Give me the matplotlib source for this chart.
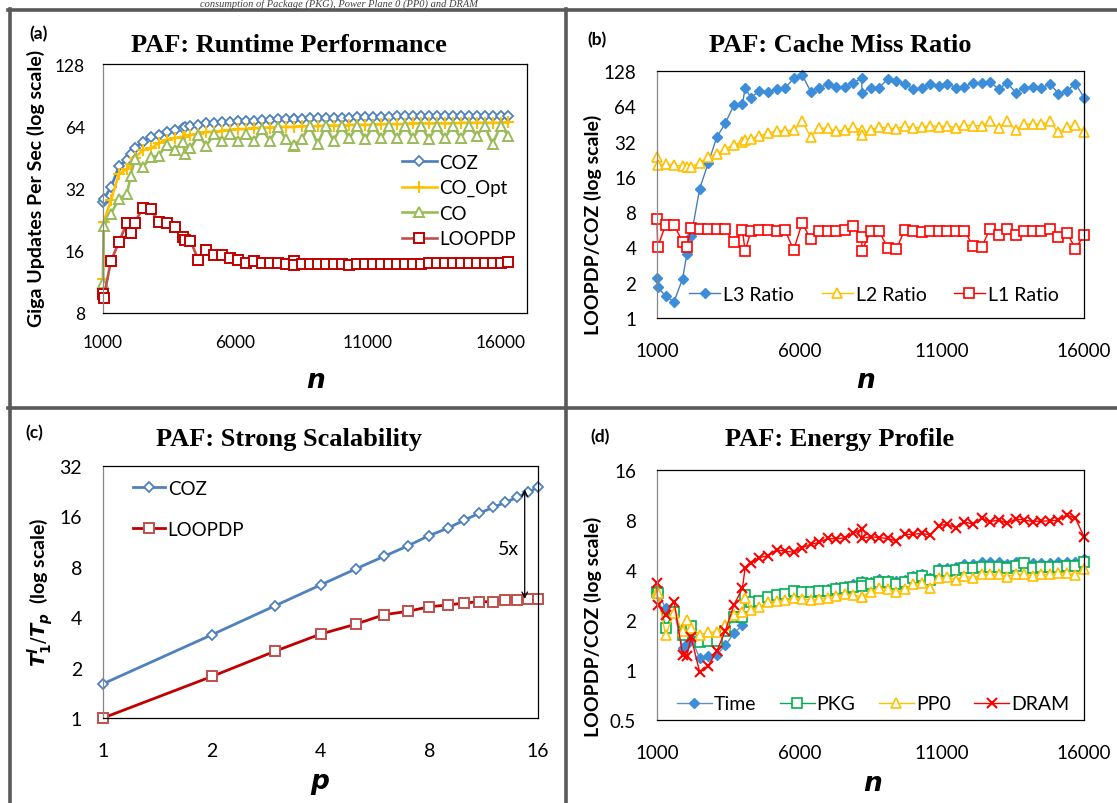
import numpy as np
import matplotlib
matplotlib.use('Agg')
import matplotlib.pyplot as plt
from matplotlib.lines import Line2D
from matplotlib.ticker import NullLocator

plt.rcParams['font.family'] = ['Lato', 'DejaVu Sans']

W, H = 1117, 804

# ---- (a) runtime performance ----
n_a = [1000, 1024, 1300, 1600, 1900, 2048, 2200, 2500, 2800, 3100,
       3400, 3700, 4000, 4096, 4300, 4600, 4900, 5200, 5500, 5800,
       6100, 6400, 6700, 7000, 7300, 7600, 7900, 8192, 8200, 8500,
       8800, 9100, 9400, 9700, 10000, 10300, 10600, 10900, 11200, 11500,
       11800, 12100, 12400, 12700, 13000, 13300, 13600, 13900, 14200, 14500,
       14800, 15100, 15400, 15700, 16000, 16300]
coz_a = [27.4, 28.5, 32.4, 41, 44, 47, 50, 54, 56.5, 58,
         60, 61.6, 63, 63.5, 64.5, 65, 66, 66.5, 67, 67,
         67.5, 68, 68, 68.5, 68.5, 69, 69, 69, 69, 69.5,
         70, 70, 70, 70.5, 70.5, 70.5, 71, 71, 71, 71,
         71, 71.5, 71.5, 71.5, 71.5, 71.5, 71.5, 71.5, 72, 72,
         72, 72, 72, 72, 72, 72]
co_opt_a = [11.7, 22, 28, 37.6, 39.7, 42, 45, 49, 50, 53,
            55, 56, 57, 57, 58, 59, 60, 60, 61, 61.5,
            62, 62, 62.5, 63, 63, 63.5, 63.5, 63.5, 63.5, 64,
            64, 64, 64.5, 64.5, 64.5, 65, 65, 65, 65, 65.5,
            65.5, 65.5, 65.5, 66, 66, 66, 66, 66, 66, 66.5,
            66.5, 66.5, 66.5, 66.5, 66.5, 66.8]
co_a = [11.2, 21, 24.1, 28.5, 30.1, 36.9, 44.4, 40.5, 45.3, 46.1,
        52, 49.3, 53.9, 47, 50, 58, 51.5, 58.7, 54.5, 58.7,
        54.5, 58.7, 54.5, 62, 54.5, 63.2, 55.5, 51.5, 52, 55.5,
        64.4, 52.5, 64.4, 54.5, 64.4, 56, 64.4, 55.5, 64.4, 56,
        64.4, 56, 64.4, 56, 64.4, 55.5, 64.4, 56, 64.4, 56,
        64.4, 57.6, 64.4, 52.5, 64.4, 57.6]
loopdp_a = [9.9, 9.45, 14.3, 17.6, 21.8, 19.5, 21.9, 25.8, 25.5, 22.1,
            21.8, 20.8, 18.6, 18.0, 17.9, 14.4, 16.1, 15.2, 15.2, 14.8,
            14.5, 14.0, 14.2, 13.9, 13.9, 13.9, 13.8, 14.2, 13.7, 13.8,
            13.8, 13.8, 13.8, 13.8, 13.8, 13.6, 13.8, 13.8, 13.8, 13.8,
            13.8, 13.8, 13.8, 13.8, 13.8, 14.0, 13.9, 13.9, 14.0, 14.0,
            14.0, 14.0, 14.0, 14.0, 14.0, 14.1]

# ---- (b) cache miss ratio and (d) energy profile ----
n_bd = [1000, 1024, 1300, 1600, 1900, 2048, 2200, 2500, 2800, 3100,
        3400, 3700, 4000, 4096, 4300, 4600, 4900, 5200, 5500, 5800,
        6100, 6400, 6700, 7000, 7300, 7600, 7900, 8192, 8200, 8500,
        8800, 9100, 9400, 9700, 10000, 10300, 10600, 10900, 11200, 11500,
        11800, 12100, 12400, 12700, 13000, 13300, 13600, 13900, 14200, 14500,
        14800, 15100, 15400, 15700, 16000]
l3 = [2.18, 1.85, 1.53, 1.38, 2.17, 3.5, 5.0, 12.7, 21, 34.8,
      46, 65.4, 66.7, 91.2, 76, 86.6, 85.5, 89.4, 91.2, 110.9,
      118.4, 85.5, 92.4, 98.6, 93.6, 93.6, 101.9, 110.9, 83.8, 92.4,
      92.4, 108.8, 105.3, 99.9, 89.4, 91.2, 99.9, 95.5, 99.9, 92.4,
      93.6, 101.9, 101.9, 103.9, 89.4, 101.9, 83.8, 92.4, 93.6, 91.2,
      99.9, 82.2, 86.6, 99.9, 76]
l2 = [23.8, 20, 20.6, 20, 19.8, 19.6, 19.6, 20.9, 23.8, 25.1,
      27.7, 30.1, 31.5, 33, 33.7, 35.9, 37.6, 39.6, 39.6, 40.1,
      47.5, 35.2, 41.7, 41.4, 39.1, 40.1, 42.3, 40.1, 36.6, 40.1,
      42.8, 41.7, 41, 43.7, 41.7, 42.3, 43.7, 42.8, 43.7, 41.7,
      44.3, 43.7, 43.7, 47.5, 41.7, 48.2, 40.1, 45.1, 45.1, 45.1,
      47.5, 38.3, 42.3, 44.3, 38.3]
l1 = [7.05, 4.05, 6.19, 6.19, 4.47, 4.0, 5.91, 5.69, 5.79, 5.79,
      5.69, 4.41, 5.6, 3.75, 5.5, 5.6, 5.6, 5.55, 5.6, 3.8,
      6.48, 4.68, 5.5, 5.53, 5.5, 5.6, 6.07, 4.93, 3.73, 5.5,
      5.53, 3.98, 3.85, 5.6, 5.5, 5.45, 5.55, 5.55, 5.55, 5.55,
      5.55, 4.13, 4.0, 5.79, 5.09, 5.79, 5.09, 5.55, 5.55, 5.55,
      5.69, 4.93, 5.35, 3.9, 5.09]

time_d = [3.0, 2.95, 2.35, 2.26, 1.35, 1.43, 1.55, 1.18, 1.21, 1.23,
          1.41, 1.66, 1.87, 2.7, 2.55, 2.62, 2.76, 2.83, 2.86, 2.99,
          3.0, 3.0, 3.05, 3.08, 3.15, 3.22, 3.28, 3.42, 3.32, 3.4,
          3.55, 3.5, 3.45, 3.5, 3.7, 3.8, 3.6, 4.1, 4.1, 4.15,
          4.35, 4.35, 4.45, 4.45, 4.45, 4.35, 4.5, 4.45, 4.4, 4.4,
          4.4, 4.45, 4.5, 4.45, 4.65]
pkg_d = [2.96, 2.9, 1.8, 2.25, 1.62, 1.75, 1.85, 1.48, 1.49, 1.5,
         1.72, 2.09, 2.09, 2.83, 2.55, 2.62, 2.76, 2.83, 2.86, 2.99,
         2.93, 2.93, 2.99, 2.99, 3.07, 3.13, 3.17, 3.33, 3.2, 3.28,
         3.4, 3.37, 3.28, 3.37, 3.6, 3.7, 3.48, 3.94, 3.94, 4.0,
         4.13, 4.13, 4.19, 4.19, 4.19, 4.13, 4.25, 4.39, 4.13, 4.19,
         4.19, 4.19, 4.25, 4.25, 4.45]
pp0_d = [2.95, 2.9, 1.62, 2.2, 1.72, 2.0, 1.8, 1.62, 1.69, 1.69,
         1.86, 2.14, 2.22, 2.73, 2.30, 2.41, 2.55, 2.60, 2.64, 2.73,
         2.68, 2.64, 2.68, 2.73, 2.80, 2.86, 2.83, 2.76, 2.76, 2.96,
         3.13, 3.07, 2.93, 3.07, 3.28, 3.33, 3.13, 3.56, 3.65, 3.48,
         3.70, 3.56, 3.77, 3.77, 3.77, 3.65, 3.77, 3.77, 3.70, 3.77,
         3.77, 3.83, 3.83, 3.73, 4.06]
dram_d = [3.33, 2.46, 2.14, 2.58, 1.23, 1.22, 1.57, 0.97, 1.06, 1.30,
          1.72, 2.46, 3.10, 4.13, 4.39, 4.75, 4.88, 5.28, 5.2, 5.11,
          5.45, 5.71, 5.87, 6.2, 6.15, 6.26, 6.65, 7.06, 6.2, 6.35,
          6.26, 6.2, 5.98, 6.56, 6.56, 6.65, 6.5, 7.4, 7.53, 7.19,
          7.82, 7.53, 8.19, 7.82, 8.0, 7.64, 8.11, 8.0, 7.82, 7.89,
          7.89, 8.0, 8.57, 8.19, 6.35]

# ---- (c) strong scalability ----
p = [1, 2, 3, 4, 5, 6, 7, 8, 9, 10, 11, 12, 13, 14, 15, 16]
coz_c = [1.6, 3.14, 4.69, 6.23, 7.76, 9.24, 10.7, 12.3, 13.6, 15.2,
         16.7, 18.1, 19.4, 20.8, 22.3, 23.9]
loopdp_c = [1.0, 1.77, 2.51, 3.17, 3.63, 4.14, 4.34, 4.62, 4.73, 4.86,
            4.95, 4.95, 5.07, 5.07, 5.14, 5.14]

n_ticks = [1000, 6000, 11000, 16000]
p_ticks = [1, 2, 4, 8, 16]

fig = plt.figure(figsize=(W / 100, H / 100), dpi=100)


def rect(l, t, r, b):
    return [l / W, 1 - b / H, (r - l) / W, (b - t) / H]


def fx(x):
    return x / W


def fy(y):
    return 1 - y / H


def style(ax, yticks, ylabels, fs=12.5, xpad=15, ypad=14):
    ax.set_yscale('log', base=2)
    ax.set_yticks(yticks)
    ax.set_yticklabels(ylabels)
    ax.yaxis.set_minor_locator(NullLocator())
    ax.tick_params(length=0, labelsize=fs)
    ax.tick_params(axis='x', pad=xpad)
    ax.tick_params(axis='y', pad=ypad)
    for s in ax.spines.values():
        s.set_linewidth(0.9)
        s.set_color('black')
    ax.spines['left'].set_color('#868686')


# panel frames
frame = dict(color='#595959', lw=2.6)
fig.add_artist(Line2D([fx(10), fx(10)], [fy(10), fy(804)], **frame))
fig.add_artist(Line2D([fx(8), fx(1117)], [fy(11), fy(11)], **frame))
fig.add_artist(Line2D([fx(566), fx(566)], [fy(10), fy(804)], **frame))
fig.add_artist(Line2D([fx(8), fx(1117)], [fy(409), fy(409)], **frame))

# caption line of the page above
fig.text(fx(200), fy(6.5), 'consumption of Package (PKG), Power Plane 0 (PP0) and DRAM',
         family='Liberation Serif', style='italic', fontsize=7.5, color='#404040',
         ha='left', va='baseline')

tfont = dict(family='Liberation Serif', weight='bold', fontsize=19, ha='center', va='center')
fig.text(fx(289), fy(45), 'PAF: Runtime Performance', **tfont)
fig.text(fx(840), fy(46), 'PAF: Cache Miss Ratio', **tfont)
fig.text(fx(289), fy(440), 'PAF: Strong Scalability', **tfont)
fig.text(fx(840), fy(440), 'PAF: Energy Profile', **tfont)

pfont = dict(weight='bold', fontsize=12.5, ha='center', va='center')
fig.text(fx(39), fy(34), '(a)', **pfont)
fig.text(fx(597), fy(40), '(b)', **pfont)
fig.text(fx(34), fy(433), '(c)', **pfont)
fig.text(fx(600), fy(437), '(d)', **pfont)

xfont = dict(family='DejaVu Sans', weight='bold', style='italic', fontsize=19,
             ha='center', va='center')
fig.text(fx(316), fy(381), 'n', **xfont)
fig.text(fx(866), fy(381), 'n', **xfont)
fig.text(fx(320), fy(782), 'p', **xfont)
fig.text(fx(873), fy(784), 'n', **xfont)

yfont = dict(weight='bold', fontsize=14, rotation=90, ha='center', va='center')
fig.text(fx(36), fy(188), 'Giga Updates Per Sec (log scale)', **yfont)
fig.text(fx(593), fy(225), 'LOOPDP/COZ (log scale)', **yfont)
fig.text(fx(40), fy(592), r'$\mathbfit{T}_\mathbf{1}^{\mathbfit{l}}/\mathbfit{T}_\mathbfit{p}$  (log scale)',
         **yfont)
fig.text(fx(593), fy(627), 'LOOPDP/COZ (log scale)', **yfont)

# ---------- (a) ----------
ax = fig.add_axes(rect(103, 65, 527, 314))
ax.plot(n_a, coz_a, color='#4A7EBB', lw=1.9, marker='D', ms=4.6, mfc='white',
        mec='#4F81BD', mew=1.3, label='COZ', clip_on=False)
ax.plot(n_a, co_opt_a, color='#FFC000', lw=1.9, marker='+', ms=8, mec='#FFC000',
        mew=1.5, label='CO_Opt', clip_on=False)
ax.plot(n_a, co_a, color='#9BBB59', lw=1.9, marker='^', ms=7, mfc='white',
        mec='#9BBB59', mew=1.4, label='CO', clip_on=False)
ax.plot(n_a, loopdp_a, color='#C0504D', lw=1.9, marker='s', ms=6.8, mfc='white',
        mec='#C00000', mew=1.4, label='LOOPDP', clip_on=False)
ax.set_xlim(1000, 17000)
ax.set_ylim(8, 128)
ax.set_xticks(n_ticks)
ax.set_xticklabels([str(v) for v in n_ticks])
style(ax, [8, 16, 32, 64, 128], ['8', '16', '32', '64', '128'], fs=12.5, xpad=15, ypad=13)
ax.legend(loc='center left', bbox_to_anchor=(0.705, 0.452), frameon=False, fontsize=13.5,
          handlelength=1.85, handletextpad=0.15, labelspacing=0.45, borderpad=0,
          borderaxespad=0)

# ---------- (b) ----------
ax = fig.add_axes(rect(657, 72, 1084, 319))
ax.plot(n_bd, l3, color='#4A7EBB', lw=1.0, marker='D', ms=5, mfc='#3C8DDA',
        mec='#3C8DDA', label='L3 Ratio', clip_on=False)
ax.plot(n_bd, l2, color='#FFC000', lw=1.0, marker='^', ms=7, mfc='white',
        mec='#FFC000', mew=1.2, label='L2 Ratio', clip_on=False)
ax.plot(n_bd, l1, color='#FF0000', lw=1.0, marker='s', ms=6.8, mfc='white',
        mec='#FF0000', mew=1.2, label='L1 Ratio', clip_on=False)
ax.set_xlim(1000, 16000)
ax.set_ylim(1, 128)
ax.set_xticks(n_ticks)
ax.set_xticklabels([str(v) for v in n_ticks])
style(ax, [1, 2, 4, 8, 16, 32, 64, 128], ['1', '2', '4', '8', '16', '32', '64', '128'],
      fs=13.5, xpad=17, ypad=15)
ax.legend(loc='center', bbox_to_anchor=(0.508, 0.097), ncol=3, frameon=False, fontsize=14,
          handlelength=1.6, handletextpad=0.15, columnspacing=1.4, borderpad=0,
          borderaxespad=0)

# ---------- (c) ----------
ax = fig.add_axes(rect(103, 467, 538, 719))
ax.plot(p, coz_c, color='#4F81BD', lw=2.0, marker='D', ms=4.6, mfc='white',
        mec='#4F81BD', mew=1.3, label='COZ', clip_on=False)
ax.plot(p, loopdp_c, color='#C00000', lw=2.0, marker='s', ms=6.5, mfc='white',
        mec='#C0504D', mew=1.4, label='LOOPDP', clip_on=False)
ax.set_xscale('log', base=2)
ax.set_xlim(1, 16)
ax.set_ylim(1, 32)
ax.set_xticks(p_ticks)
ax.set_xticklabels([str(v) for v in p_ticks])
ax.xaxis.set_minor_locator(NullLocator())
style(ax, [1, 2, 4, 8, 16, 32], ['1', '2', '4', '8', '16', '32'], fs=14, xpad=17, ypad=15)
ax.legend(loc='center left', bbox_to_anchor=(0.069, 0.83), frameon=False, fontsize=13.5,
          handlelength=1.7, handletextpad=0.15, labelspacing=1.3, borderpad=0,
          borderaxespad=0)
ax.annotate('', xy=(p[-2] * 0.98, coz_c[-1] * 0.97), xytext=(p[-2] * 0.98, loopdp_c[-1]),
            arrowprops=dict(arrowstyle='<->', color='black', lw=0.9,
                            shrinkA=0, shrinkB=0))
ax.text(p[-4] * 1.02, np.sqrt(coz_c[-1] * loopdp_c[-1]) * 0.93, '5x', fontsize=14,
        ha='center', va='center')

# ---------- (d) ----------
ax = fig.add_axes(rect(657, 471, 1084, 721))
ax.plot(n_bd, time_d, color='#5B8FD0', lw=1.0, marker='D', ms=5, mfc='#3C8DDA',
        mec='#3C8DDA', label='Time', clip_on=False)
ax.plot(n_bd, pkg_d, color='#00B050', lw=1.0, marker='s', ms=6.8, mfc='white',
        mec='#00B050', mew=1.2, label='PKG', clip_on=False)
ax.plot(n_bd, pp0_d, color='#FFC000', lw=1.0, marker='^', ms=7, mfc='white',
        mec='#FFC000', mew=1.2, label='PP0', clip_on=False)
ax.plot(n_bd, dram_d, color='#FF0000', lw=1.0, marker='x', ms=7, mec='#FF0000',
        mew=1.5, label='DRAM', clip_on=False)
ax.set_xlim(1000, 16000)
ax.set_ylim(0.5, 16)
ax.set_xticks(n_ticks)
ax.set_xticklabels([str(v) for v in n_ticks])
style(ax, [0.5, 1, 2, 4, 8, 16], ['0.5', '1', '2', '4', '8', '16'], fs=13.5, xpad=17, ypad=15)
ax.legend(loc='center', bbox_to_anchor=(0.506, 0.064), ncol=4, frameon=False, fontsize=14,
          handlelength=1.8, handletextpad=0.1, columnspacing=1.2, borderpad=0,
          borderaxespad=0)

fig.savefig('out.png', dpi=100)
